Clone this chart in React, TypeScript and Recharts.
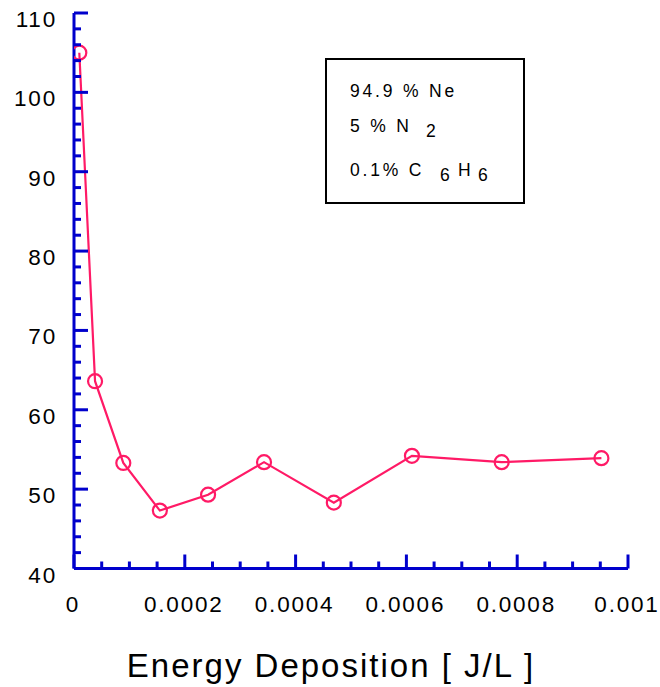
import React from 'react';
import { LineChart, Line, XAxis, YAxis, Customized } from 'recharts';

// Data
const energyDeposition = [0.0000096, 0.000038, 0.000089, 0.000155, 0.000242, 0.000343, 0.000469, 0.00061, 0.000772, 0.000952];
const measuredValues = [105.0, 63.6, 53.3, 47.3, 49.3, 53.4, 48.3, 54.2, 53.4, 53.9];

const xMajorTicks = [0, 0.0002, 0.0004, 0.0006, 0.0008, 0.001];
const xTickLabels = ['0', '0.0002', '0.0004', '0.0006', '0.0008', '0.001'];
const xMinorTicks = [
  0.00005, 0.0001, 0.00015, 0.00025, 0.0003, 0.00035, 0.00045, 0.0005, 0.00055,
  0.00065, 0.0007, 0.00075, 0.00085, 0.0009, 0.00095,
];
const yMajorTicks = [40, 50, 60, 70, 80, 90, 100, 110];
const yMinorTicks = [
  42, 44, 46, 48, 52, 54, 56, 58, 62, 64, 66, 68, 72, 74, 76, 78,
  82, 84, 86, 88, 92, 94, 96, 98, 102, 104, 106, 108,
];

const xAxisTitle = 'Energy Deposition [ J/L ]';

const chartData = energyDeposition.map((e, i) => ({ e, v: measuredValues[i] }));
const xAllTicks = [...xMajorTicks, ...xMinorTicks].sort((a, b) => a - b);
const yAllTicks = [...yMajorTicks, ...yMinorTicks].sort((a, b) => a - b);

const AXIS = '#0000cc';
const LINE = '#ff1a66';
const FONT = 'Arial, "Liberation Sans", Helvetica, sans-serif';
const MAJOR = 14;
const MINOR = 7;
const TICK_W = 3;

const majorIndex = (arr: number[], v: number) => arr.findIndex((t) => Math.abs(t - v) < 1e-9);

const BottomTick = (props: any) => {
  const { x, y, payload } = props;
  const idx = majorIndex(xMajorTicks, payload.value);
  const len = idx >= 0 ? MAJOR : MINOR;
  return (
    <g>
      <line x1={x} y1={y} x2={x} y2={y - len} stroke={AXIS} strokeWidth={TICK_W} />
      {idx >= 0 && (
        <text x={x - 1} y={y + 43} textAnchor="middle" fontSize={22.5} letterSpacing={1.8} fill="#000" fontFamily={FONT}>
          {xTickLabels[idx]}
        </text>
      )}
    </g>
  );
};

const TopTick = (props: any) => {
  const { x, y, payload } = props;
  const idx = majorIndex(xMajorTicks, payload.value);
  const len = idx >= 0 ? MAJOR : MINOR;
  return <line x1={x} y1={y} x2={x} y2={y + len} stroke={AXIS} strokeWidth={TICK_W} />;
};

const LeftTick = (props: any) => {
  const { x, y, payload } = props;
  const idx = majorIndex(yMajorTicks, payload.value);
  const len = idx >= 0 ? MAJOR : MINOR;
  return (
    <g>
      <line x1={x} y1={y} x2={x + len} y2={y} stroke={AXIS} strokeWidth={TICK_W} />
      {idx >= 0 && (
        <text x={x - 17} y={y + 14} textAnchor="end" fontSize={22.5} letterSpacing={1.8} fill="#000" fontFamily={FONT}>
          {String(yMajorTicks[idx])}
        </text>
      )}
    </g>
  );
};

const RightTick = (props: any) => {
  const { x, y, payload } = props;
  const idx = majorIndex(yMajorTicks, payload.value);
  const len = idx >= 0 ? MAJOR : MINOR;
  return <line x1={x} y1={y} x2={x - len} y2={y} stroke={AXIS} strokeWidth={TICK_W} />;
};

const Annotations = () => (
  <g fontFamily={FONT} fill="#000">
    <rect x={326} y={59} width={198} height={144} fill="none" stroke="#000" strokeWidth={2} />
    <text x={350} y={97} fontSize={17.5} letterSpacing={2.8}>94.9 % Ne</text>
    <text x={350} y={132} fontSize={17.5} letterSpacing={2.8}>5 % N</text>
    <text x={426} y={137} fontSize={17.5}>2</text>
    <text x={350} y={176} fontSize={17.5} letterSpacing={2.8}>0.1% C</text>
    <text x={440} y={181} fontSize={17.5}>6</text>
    <text x={458} y={176} fontSize={17.5}>H</text>
    <text x={478} y={181} fontSize={17.5}>6</text>
    <text x={331} y={677} fontSize={33} letterSpacing={2} textAnchor="middle">{xAxisTitle}</text>
  </g>
);

export default function App() {
  return (
    <div style={{ position: 'absolute', left: 0, top: 0, background: '#fff' }}>
      <LineChart
        width={660}
        height={687}
        data={chartData}
        margin={{ top: 13, right: 32, bottom: 58.5, left: 14 }}
      >
        <XAxis
          dataKey="e"
          type="number"
          domain={[0, 0.001]}
          ticks={xAllTicks}
          interval={0}
          tick={<BottomTick />}
          tickLine={false}
          tickSize={0}
          tickMargin={0}
          height={60}
          axisLine={{ stroke: AXIS, strokeWidth: 3 }}
          allowDataOverflow
        />
        <XAxis
          xAxisId="top"
          orientation="top"
          dataKey="e"
          type="number"
          domain={[0, 0.001]}
          ticks={xAllTicks}
          interval={0}
          tick={<TopTick />}
          tickLine={false}
          tickSize={0}
          tickMargin={0}
          height={0}
          axisLine={{ stroke: AXIS, strokeWidth: 3 }}
          allowDataOverflow
        />
        <YAxis
          type="number"
          domain={[40, 110]}
          ticks={yAllTicks}
          interval={0}
          tick={<LeftTick />}
          tickLine={false}
          tickSize={0}
          tickMargin={0}
          width={60}
          axisLine={{ stroke: AXIS, strokeWidth: 3 }}
          allowDataOverflow
        />
        <YAxis
          yAxisId="right"
          orientation="right"
          type="number"
          domain={[40, 110]}
          ticks={yAllTicks}
          interval={0}
          tick={<RightTick />}
          tickLine={false}
          tickSize={0}
          tickMargin={0}
          width={0}
          axisLine={{ stroke: AXIS, strokeWidth: 3 }}
          allowDataOverflow
        />
        <Line
          dataKey="v"
          type="linear"
          stroke={LINE}
          strokeWidth={2.2}
          dot={{ r: 7, stroke: LINE, strokeWidth: 2.2, fill: 'none' }}
          isAnimationActive={false}
        />
        <Customized component={<Annotations />} />
      </LineChart>
    </div>
  );
}
